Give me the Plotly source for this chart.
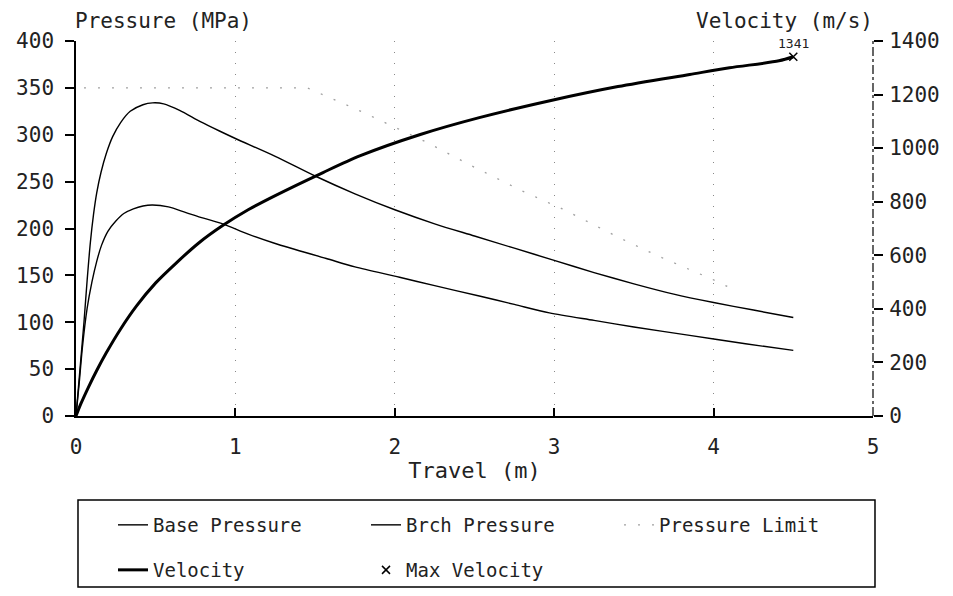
import plotly.graph_objects as go

# Data
base_x = [0, 0.02, 0.04, 0.07, 0.1, 0.13, 0.16, 0.2, 0.25, 0.3, 0.36, 0.42, 0.48, 0.58, 0.69, 0.8, 0.92, 1.08, 1.25, 1.57, 1.75, 2.03, 2.25, 2.53, 2.75, 2.97, 3.25, 3.5, 3.85, 4.2, 4.5]
base_p = [0, 35, 73, 115, 143, 165, 182, 197, 208, 216, 221, 224, 225, 223, 217, 211, 205, 194, 184, 168, 159, 148, 139, 128, 119, 110, 102, 95, 86, 77, 70]

brch_x = [0, 0.03, 0.05, 0.07, 0.09, 0.11, 0.13, 0.157, 0.19, 0.23, 0.28, 0.34, 0.42, 0.48, 0.55, 0.65, 0.78, 0.9, 1.0, 1.25, 1.5, 1.75, 2.0, 2.25, 2.5, 2.75, 3.0, 3.25, 3.5, 3.75, 4.0, 4.25, 4.5]
brch_p = [0, 60, 100, 145, 185, 215, 238, 260, 280, 298, 313, 325, 332, 334, 333, 326, 314, 304, 296, 277, 256, 237, 220, 205, 192, 179, 166, 153, 141, 130, 121, 113, 105]

limit_x = [0.05, 1.45, 1.64, 1.8, 2.2, 2.48, 2.8, 3.05, 3.41, 3.66, 3.99, 4.1]
limit_p = [350, 350, 336, 324, 292, 267, 240, 221, 190, 170, 146, 137]

vel_x = [0, 0.03, 0.08, 0.13, 0.19, 0.28, 0.38, 0.5, 0.63, 0.77, 0.92, 1.08, 1.25, 1.55, 1.78, 2.16, 2.53, 2.98, 3.4, 3.85, 4.1, 4.41, 4.5]
vel_v = [0, 45, 110, 170, 236, 325, 411, 497, 572, 646, 711, 770, 823, 909, 971, 1051, 1114, 1178, 1230, 1275, 1300, 1326, 1341]

max_x = [4.5]
max_v = [1341]
max_label = ["1341"]

x_ticks = [0, 1, 2, 3, 4, 5]
p_ticks = [0, 50, 100, 150, 200, 250, 300, 350, 400]
v_ticks = [0, 200, 400, 600, 800, 1000, 1200, 1400]

FONT = "DejaVu Sans Mono"
INK = "#222222"
W, H = 937, 580

fig = go.Figure()
fig.add_trace(go.Scatter(x=base_x, y=base_p, mode="lines", name="Base Pressure", legend="legend",
                         line=dict(color="black", width=1.4, shape="spline", smoothing=0.8)))
fig.add_trace(go.Scatter(x=brch_x, y=brch_p, mode="lines", name="Brch Pressure", legend="legend",
                         line=dict(color="black", width=1.4, shape="spline", smoothing=0.8)))
fig.add_trace(go.Scatter(x=limit_x, y=limit_p, mode="lines", name="Pressure Limit", legend="legend",
                         line=dict(color="#a0a0a0", width=1.3, dash="2px,12px")))
fig.add_trace(go.Scatter(x=vel_x, y=vel_v, mode="lines", name="Velocity", yaxis="y2", legend="legend2",
                         line=dict(color="black", width=3, shape="spline", smoothing=0.8)))
fig.add_trace(go.Scatter(x=max_x, y=max_v, mode="markers", name="Max Velocity", yaxis="y2",
                         legend="legend2",
                         marker=dict(symbol="x-thin-open", size=8, color="black",
                                     line=dict(color="black", width=1.5))))

tick_font = dict(family=FONT, size=21, color=INK)
legend_common = dict(orientation="h", xref="container", yref="container", x=105 / W,
                     xanchor="left", yanchor="middle", bgcolor="rgba(0,0,0,0)", borderwidth=0,
                     entrywidth=208, entrywidthmode="pixels",
                     font=dict(family=FONT, size=19, color=INK))

fig.update_layout(
    width=W, height=H,
    paper_bgcolor="white", plot_bgcolor="white",
    margin=dict(l=68, r=72, t=33, b=172, autoexpand=False),
    font=dict(family=FONT, size=19, color=INK),
    xaxis=dict(range=[0, 5], tickvals=x_ticks, showline=True, linecolor="black", linewidth=2,
               ticks="inside", ticklen=8, tickcolor="black", tickwidth=1.5, automargin=False,
               showgrid=True, gridcolor="#888888", griddash="1px,10px", gridwidth=1, zeroline=False,
               title=dict(text="Travel (m)", font=dict(family=FONT, size=22, color=INK), standoff=4),
               tickfont=tick_font, ticklabelstandoff=11),
    yaxis=dict(range=[0, 400], tickvals=p_ticks, showline=True, linecolor="black", linewidth=1.5,
               ticks="outside", ticklen=9, tickcolor="black", tickwidth=1.5, showgrid=False,
               zeroline=False, automargin=False, tickfont=tick_font, ticklabelstandoff=7),
    yaxis2=dict(range=[0, 1400], tickvals=v_ticks, overlaying="y", side="right", anchor="x",
                showline=False, ticks="outside", ticklen=9, tickcolor="black", tickwidth=1.5,
                showgrid=False, zeroline=False, automargin=False, tickfont=tick_font,
                ticklabelstandoff=2),
    yaxis3=dict(range=[0, 400], tickvals=p_ticks, overlaying="y", side="left", anchor="x",
                ticks="inside", ticklen=10, tickcolor="black", tickwidth=1.5, showline=False,
                showticklabels=False, showgrid=False, zeroline=False, automargin=False),
    yaxis4=dict(range=[0, 1400], tickvals=v_ticks, overlaying="y", side="right", anchor="x",
                ticks="inside", ticklen=10, tickcolor="black", tickwidth=1.5, showline=False,
                showticklabels=False, showgrid=False, zeroline=False, automargin=False),
    showlegend=True,
    legend=dict(y=1 - 517 / H, **legend_common),
    legend2=dict(y=1 - 562 / H, **legend_common),
    shapes=[
        dict(type="line", xref="paper", yref="paper", x0=1, x1=1, y0=0, y1=1,
             line=dict(color="black", width=1.2, dash="dashdot")),
        dict(type="rect", xref="paper", yref="paper", x0=0.0025, x1=1.0025, y0=-0.456, y1=-0.224,
             line=dict(color="black", width=1.5)),
    ],
    annotations=[
        dict(text="Pressure (MPa)", x=0, xref="paper", xanchor="left", y=1.0, yref="paper",
             yanchor="bottom", yshift=7, xshift=-2, showarrow=False, borderpad=0,
             font=dict(family=FONT, size=21, color=INK)),
        dict(text="Velocity (m/s)", x=1, xref="paper", xanchor="right", y=1.0, yref="paper",
             yanchor="bottom", yshift=7, xshift=1, showarrow=False, borderpad=0,
             font=dict(family=FONT, size=21, color=INK)),
        dict(text=max_label[0], x=max_x[0], xref="x", y=max_v[0], yref="y2",
             yanchor="bottom", yshift=5, showarrow=False, borderpad=0,
             font=dict(family=FONT, size=13, color=INK)),
    ],
)

fig.write_html("out.html")
